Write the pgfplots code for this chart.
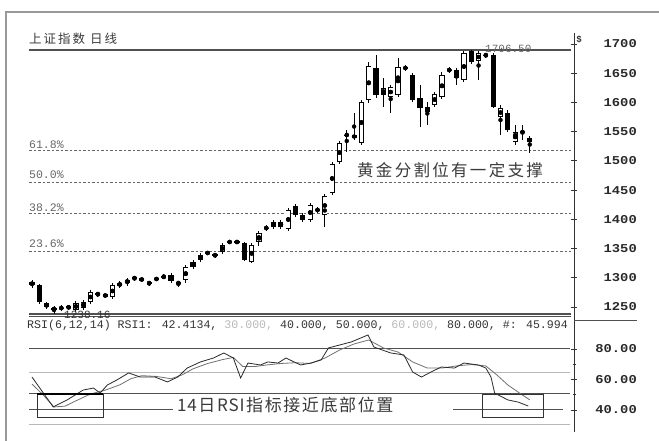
\documentclass[border=0pt]{standalone}
\usepackage{pgfplots}
\pgfplotsset{compat=1.18}
\usepackage{pgfplotstable}
\usepackage{graphicx}
\usepackage{fontspec}
\setmainfont{Liberation Sans}
\newfontfamily\cjk{Noto Sans CJK SC}
\newfontfamily\mono{Liberation Mono}
\definecolor{cAx}{HTML}{333333}
\definecolor{cTick}{HTML}{2a2a2a}
\definecolor{cLine}{HTML}{505050}
\definecolor{cLight}{HTML}{B8B8B8}
\definecolor{cDash}{HTML}{666666}
\definecolor{cFrame}{HTML}{999999}
\definecolor{cText}{HTML}{3a3a3a}
\definecolor{cRsiA}{HTML}{2a2a2a}
\definecolor{cRsiB}{HTML}{707070}
\newcommand\W[1]{\scalebox{1.15}[1]{#1}}

% up (white) candles: index open high low close
\pgfplotstableread{
x o h l c
3 1245.3 1252.4 1238.16 1248.8
4 1248.0 1254.1 1243.5 1249.2
5 1248.8 1254.1 1245.3 1251.5
6 1245.3 1261.2 1241.7 1257.7
7 1248.8 1263.0 1245.3 1259.4
8 1259.4 1280.7 1255.9 1277.2
9 1272.8 1277.2 1268.3 1274.5
11 1268.3 1293.2 1264.8 1289.6
12 1287.8 1296.7 1284.3 1293.2
13 1293.2 1302.0 1287.8 1298.5
14 1301.1 1305.6 1296.7 1302.9
16 1292.3 1296.7 1287.8 1294.0
17 1299.4 1303.8 1296.7 1301.1
18 1302.9 1309.1 1300.3 1304.7
20 1291.4 1296.7 1286.1 1294.9
21 1298.5 1325.1 1293.2 1321.5
22 1321.5 1333.9 1318.0 1330.4
23 1333.9 1346.4 1330.4 1342.8
24 1345.5 1349.9 1342.8 1347.3
26 1348.2 1364.1 1344.6 1360.6
27 1365.0 1369.4 1362.3 1366.8
28 1365.0 1369.4 1362.3 1366.8
30 1330.4 1364.1 1328.6 1360.6
31 1365.9 1385.4 1358.8 1381.9
32 1389.8 1396.0 1385.4 1391.6
33 1392.5 1404.9 1388.9 1401.4
35 1388.9 1426.2 1385.4 1422.7
38 1404.9 1435.1 1401.4 1431.5
39 1421.8 1428.0 1417.3 1423.5
40 1413.8 1451.0 1392.5 1447.5
41 1452.8 1507.8 1449.3 1504.3
42 1507.8 1545.1 1504.3 1541.5
43 1554.8 1564.6 1525.6 1556.6
45 1541.5 1617.8 1538.0 1614.3
46 1617.8 1685.2 1612.5 1678.1
48 1626.7 1656.8 1605.4 1639.1
49 1623.1 1644.4 1594.7 1640.9
50 1626.7 1692.3 1623.1 1676.3
51 1673.7 1679.9 1669.2 1675.5
54 1596.5 1614.3 1573.4 1605.4
55 1608.9 1632.0 1605.4 1628.4
56 1623.1 1667.5 1619.6 1662.1
57 1670.1 1676.3 1665.7 1671.9
59 1653.3 1704.7 1649.7 1701.2
61 1687.0 1704.7 1653.3 1701.2
62 1696.7 1701.2 1692.3 1698.5
64 1587.6 1608.9 1555.7 1603.6
66 1543.3 1573.4 1538.0 1561.0
67 1560.1 1573.4 1546.8 1561.9
}\up

% down (black) candles
\pgfplotstableread{
x o h l c
0 1294.9 1298.5 1284.3 1289.6
1 1289.6 1291.4 1255.9 1259.4
2 1257.7 1259.4 1247.0 1250.6
10 1273.6 1275.4 1266.5 1268.3
15 1302.0 1303.8 1294.9 1296.7
19 1307.3 1310.9 1293.2 1296.7
25 1344.6 1346.4 1337.5 1341.1
29 1364.1 1365.9 1332.2 1333.9
34 1401.4 1404.9 1388.9 1392.5
36 1429.8 1433.3 1410.2 1413.8
37 1413.8 1417.3 1401.4 1404.9
44 1555.7 1594.7 1546.8 1550.4
47 1674.6 1697.6 1621.3 1626.7
52 1662.1 1665.7 1614.3 1617.8
53 1621.3 1644.4 1569.9 1603.6
58 1671.0 1674.6 1644.4 1656.8
60 1704.7 1706.5 1681.7 1685.2
63 1697.6 1701.2 1603.6 1605.4
65 1594.7 1600.1 1561.0 1564.6
68 1550.4 1553.9 1523.8 1543.3
}\down

\pgfplotstableread{
x v
0 61.6
2.9 42.0
4.8 46.6
7 53.1
8.4 54.4
9.3 51.1
10.3 56.4
11.6 59.7
13.2 64.3
14.8 61.6
16.8 61.6
18.5 58.4
19.9 61.6
21.2 67.5
23 71.5
24.8 74.1
26.2 77.4
27.5 74.1
28.5 61.0
29.5 70.8
31.2 69.5
32.2 71.5
33.6 70.8
34.7 74.1
35.8 71.5
36.7 69.5
38.1 70.8
39.5 72.8
40.5 80.7
43.6 84.6
45.9 89.2
46.7 81.3
49 77.4
50.8 76.1
52 64.9
53.2 61.6
54.5 64.9
55.9 68.2
57.7 67.5
59 70.8
61 69.5
62 67.5
62.7 61.6
63.2 51.1
65 46.6
66.4 45.2
67.8 42.6
}\rsiA

\pgfplotstableread{
x v
0 57.0
1.5 50.0
3 42.0
4.5 42.5
6 46.0
8 50.5
10 53.0
12 56.5
13.5 60.5
15 62.5
17 62.0
19 60.5
20.5 63.0
22 67.0
24 70.5
26 73.0
27.5 74.5
28.8 68.5
30.5 68.5
32 69.5
34 70.5
36 71.0
38 70.5
40 74.0
42 79.3
44 83.3
46 85.9
48 80.7
50 78.0
52 71.5
54 67.5
56 67.5
58 68.9
60 69.8
62 68.9
63.5 63.0
65 56.4
67 49.8
68 46.6
}\rsiB

\pgfplotsset{
  common/.style={
    scale only axis, width=545pt,
    xmin=-0.41, xmax=74.04,
    axis x line=none, axis y line*=right,
    y axis line style={cAx, line width=1pt},
    xtick=\empty,
    yticklabel style={font=\mono\bfseries\fontsize{12}{12}\selectfont, text=cTick, anchor=east, xshift=60pt, inner sep=0pt},
    tick style={cAx, line width=0.8pt},
    tick align=center, major tick length=6pt, minor tick length=3pt,
    minor y tick num=1,
  },
  wick/.style={only marks, mark=none, forget plot,
    error bars/.cd, y dir=both, y explicit, error mark=none,
    error bar style={line width=0.9pt, draw=black}},
  body/.style={only marks, mark=none, forget plot,
    error bars/.cd, y dir=both, y explicit, error mark=none,
    error bar style={line width=5.2pt, draw=#1}},
}

\begin{document}
\begin{tikzpicture}
% outer frame
\draw[cFrame, line width=1.2pt] (6pt,0pt) -- (6pt,429pt) -- (659pt,429pt);

\begin{axis}[common, name=main, at={(29pt,124.5pt)}, anchor=south west,
  height=283.5pt, ymin=1233.7, ymax=1736.7,
  ytick={1250.6,1302.4,1354.3,1406.1,1457.9,1509.8,1561.6,1613.4,1665.2,1717.1},
  yticklabels={\W{1250},\W{1300},\W{1350},\W{1400},\W{1450},\W{1500},\W{1550},\W{1600},\W{1650},\W{1700}},
]
% golden section lines
\addplot[cDash, dash pattern=on 2.5pt off 2pt, line width=0.8pt] coordinates {(-0.41,1527.6) (73.6,1527.6)};
\addplot[cDash, dash pattern=on 2.5pt off 2pt, line width=0.8pt] coordinates {(-0.41,1472.3) (73.6,1472.3)};
\addplot[cDash, dash pattern=on 2.5pt off 2pt, line width=0.8pt] coordinates {(-0.41,1417.1) (73.6,1417.1)};
\addplot[cDash, dash pattern=on 2.5pt off 2pt, line width=0.8pt] coordinates {(-0.41,1348.7) (73.6,1348.7)};
% high / low lines
\addplot[cLine, line width=1.2pt] coordinates {(-0.41,1706.5) (73.6,1706.5)};
\addplot[cLine, line width=1.2pt] coordinates {(-0.41,1238.16) (73.6,1238.16)};
\addplot[cLine, line width=1pt] coordinates {(-0.41,1234.2) (73.6,1234.2)};
% wicks
\addplot[wick] table[x=x, y expr={(\thisrow{h}+\thisrow{l})/2}, y error expr={(\thisrow{h}-\thisrow{l})/2}] {\up};
\addplot[wick] table[x=x, y expr={(\thisrow{h}+\thisrow{l})/2}, y error expr={(\thisrow{h}-\thisrow{l})/2}] {\down};
% bodies
\addplot[body=black] table[x=x, y expr={(\thisrow{o}+\thisrow{c})/2}, y error expr={abs(\thisrow{o}-\thisrow{c})/2}] {\down};
\addplot[body=black] table[x=x, y expr={(\thisrow{o}+\thisrow{c})/2}, y error expr={max(abs(\thisrow{o}-\thisrow{c})/2,0.9)}] {\up};
\addplot[only marks, mark=none, forget plot,
    error bars/.cd, y dir=both, y explicit, error mark=none,
    error bar style={line width=3.6pt, draw=white}]
  table[x=x, y expr={(\thisrow{o}+\thisrow{c})/2}, y error expr={max(abs(\thisrow{o}-\thisrow{c})/2-1.4,0)}] {\up};
\end{axis}

\begin{axis}[common, name=rsi, at={(29pt,9pt)}, anchor=south west,
  height=111pt, ymin=25.57, ymax=98.36,
  ytick={40,60,80}, yticklabels={\W{40.00},\W{60.00},\W{80.00}},
]
\addplot[cLine, line width=1pt] coordinates {(-0.41,80) (73.5,80)};
\addplot[cLight, line width=1pt] coordinates {(-0.41,64.9) (73.5,64.9)};
\addplot[cLine, line width=1pt] coordinates {(-0.41,50.5) (73.5,50.5)};
\addplot[cLine, line width=1pt] coordinates {(-0.41,40) (72.5,40)};
\addplot[cLight, line width=1pt] coordinates {(-0.41,30.2) (73.5,30.2)};
\addplot[cRsiB, line width=0.8pt] table[x=x, y=v] {\rsiB};
\addplot[cRsiA, line width=0.8pt] table[x=x, y=v] {\rsiA};
\end{axis}

% join of right axis line between panels, separator
\draw[cAx, line width=1pt] (574pt,119pt) -- (574pt,126pt);
\draw[cLine, line width=1pt] (574pt,120.3pt) -- (637pt,120.3pt);
\node[font=\bfseries\fontsize{9}{9}\selectfont, text=cAx, inner sep=0pt] at (579pt,401pt) {\$};

% title
\node[anchor=west, inner sep=0pt, text=cText, font=\cjk\fontsize{12.5}{12.5}\selectfont] at (29pt,402pt)
  {上\kern2pt 证\kern2pt 指\kern2pt 数\kern5pt 日\kern2pt 线};

% golden section labels
\begin{scope}[every node/.style={anchor=west, inner sep=0pt, text=cDash, font=\mono\fontsize{11.5}{11.5}\selectfont}]
\node at (29pt,296pt) {61.8\%};
\node at (29pt,266pt) {50.0\%};
\node at (29pt,233pt) {38.2\%};
\node at (29pt,197pt) {23.6\%};
\end{scope}

\node[anchor=west, inner sep=0pt, text=cDash, font=\mono\fontsize{11}{11}\selectfont] at (485pt,392pt) {1706.50};
\node[anchor=west, inner sep=0pt, text=cAx, font=\mono\fontsize{11}{11}\selectfont] at (64pt,126pt) {1238.16};

\node[anchor=west, inner sep=0pt, text=cText, font=\cjk\fontsize{16.5}{16.5}\selectfont] at (357pt,271pt)
  {黄\kern2.3pt 金\kern2.3pt 分\kern2.3pt 割\kern2.3pt 位\kern2.3pt 有\kern2.3pt 一\kern2.3pt 定\kern2.3pt 支\kern2.3pt 撑};

% RSI header
\node[anchor=west, inner sep=0pt, text=cAx, font=\mono\fontsize{11.6}{11.6}\selectfont] at (27pt,115pt)
  {RSI(6,12,14) RSI1: 42.4134, \textcolor{cLight}{30.000,} 40.000, 50.000, \textcolor{cLight}{60.000,} 80.000, \#: 45.994};

% RSI annotation
\fill[white] (173pt,22pt) rectangle (453pt,40pt);
\node[anchor=west, inner sep=0pt, text=cText, font=\cjk\fontsize{17}{17}\selectfont] at (177pt,36pt)
  {1\kern0.8pt 4\kern1.6pt 日\kern1.6pt R\kern0.8pt S\kern0.8pt I\kern1.6pt 指\kern1.6pt 标\kern1.6pt 接\kern1.6pt 近\kern1.6pt 底\kern1.6pt 部\kern1.6pt 位\kern1.6pt 置};
\draw[cAx, line width=0.9pt] (37pt,24pt) rectangle (103pt,47pt);
\draw[black, line width=1.6pt] (37pt,47pt) -- (103pt,47pt);
\draw[cAx, line width=0.9pt] (482pt,24pt) rectangle (543pt,47pt);

\pgfresetboundingbox
\path (0pt,0pt) rectangle (659pt,441pt);
\end{tikzpicture}
\end{document}
